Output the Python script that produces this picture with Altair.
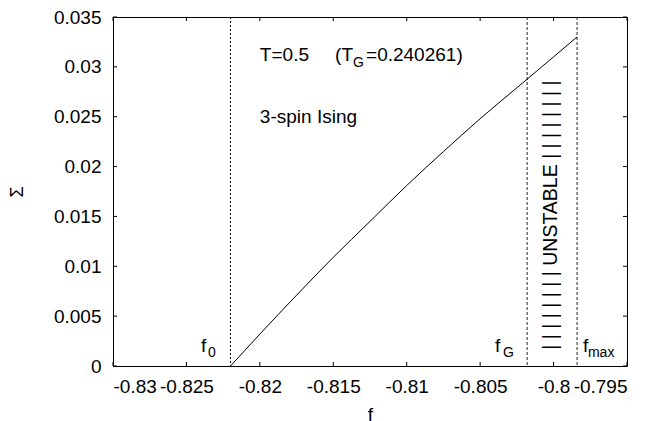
import altair as alt
import pandas as pd

# Curve Sigma(f)
f_vals = [-0.8220, -0.8200, -0.8175, -0.8150, -0.8125, -0.8100, -0.8075, -0.8050, -0.8025, -0.8000, -0.7984]
sigma_vals = [0.0, 0.0032, 0.0071, 0.0109, 0.0145, 0.0181, 0.0215, 0.0248, 0.0279, 0.0310, 0.0330]

# Special free energies (vertical dashed lines)
f0 = -0.8220
fG = -0.8018
fmax = -0.7984

x_ticks = [-0.83, -0.825, -0.82, -0.815, -0.81, -0.805, -0.8, -0.795]
y_ticks = [0, 0.005, 0.01, 0.015, 0.02, 0.025, 0.03, 0.035]

W, H = 514, 349
FONT = "Liberation Sans"

xs = alt.Scale(domain=[-0.83, -0.795], nice=False, zero=False)
ys = alt.Scale(domain=[0, 0.035], nice=False, zero=False)

x_axis = alt.Axis(values=x_ticks, labelExpr="'' + datum.value", ticks=False, domain=False,
                  grid=False, labelFontSize=19, labelPadding=11, titleFontSize=19,
                  titleFontWeight="normal", titlePadding=9, labelColor="black",
                  titleColor="black", labelFont=FONT, titleFont=FONT, title="f")
y_axis = alt.Axis(values=y_ticks, labelExpr="'' + datum.value", ticks=False, domain=False,
                  grid=False, labelFontSize=19, labelPadding=12, titleFontSize=18,
                  titleFontWeight="normal", titlePadding=27, labelColor="black",
                  titleColor="black", labelFont=FONT, titleFont=FONT, title="Σ")


def X():
    return alt.X("f:Q", scale=xs, axis=x_axis, title="f")


def Y():
    return alt.Y("S:Q", scale=ys, axis=y_axis, title="Σ")


curve_df = pd.DataFrame({"f": f_vals, "S": sigma_vals})

curve = alt.Chart(curve_df).mark_line(color="black", strokeWidth=1, interpolate="monotone").encode(x=X(), y=Y())

vl_f0 = alt.Chart(pd.DataFrame({"f": [f0]})).mark_rule(color="black", strokeWidth=1, strokeDash=[2, 2]).encode(
    x=X(), y=alt.value(0), y2=alt.value(H))
vl_fg = alt.Chart(pd.DataFrame({"f": [fG, fmax]})).mark_rule(color="#222", strokeWidth=1, strokeDash=[3, 2]).encode(
    x=X(), y=alt.value(0), y2=alt.value(H))

xt = pd.DataFrame({"f": x_ticks})
yt = pd.DataFrame({"S": y_ticks})
tick_b = alt.Chart(xt).mark_rule(color="black").encode(x=X(), y=alt.value(H), y2=alt.value(H - 4))
tick_t = alt.Chart(xt).mark_rule(color="black").encode(x=X(), y=alt.value(0), y2=alt.value(4))
tick_l = alt.Chart(yt).mark_rule(color="black").encode(y=Y(), x=alt.value(0), x2=alt.value(4))
tick_r = alt.Chart(yt).mark_rule(color="black").encode(y=Y(), x=alt.value(W), x2=alt.value(W - 4))

# Annotations (anchored in data coordinates)
main_text = pd.DataFrame({
    "f": [-0.8200, -0.81488, -0.81277, -0.8200, -0.82401, -0.80399, -0.79800],
    "S": [0.0306, 0.0306, 0.0306, 0.02437, 0.0014, 0.0014, 0.0014],
    "t": ["T=0.5", "(T", "=0.240261)", "3-spin Ising", "f", "f", "f"],
})
sub_text = pd.DataFrame({
    "f": [-0.81366, -0.82353, -0.80344, -0.79766],
    "S": [0.0300, 0.0009, 0.0009, 0.0009],
    "t": ["G", "0", "G", "max"],
})
unstable = pd.DataFrame({
    "f": [-0.80018], "S": [0.01514],
    "t": ["| | | | | | | |  UNSTABLE  | | | | | | | |"],
})

txt_main = alt.Chart(main_text).mark_text(align="left", baseline="alphabetic", fontSize=19,
                                           font=FONT, color="black").encode(x=X(), y=Y(), text="t:N")
txt_sub = alt.Chart(sub_text).mark_text(align="left", baseline="alphabetic", fontSize=14,
                                         font=FONT, color="black").encode(x=X(), y=Y(), text="t:N")
txt_unst = alt.Chart(unstable).mark_text(align="center", baseline="middle", fontSize=19.5, angle=270,
                                          font=FONT, color="black").encode(x=X(), y=Y(), text="t:N")

chart = alt.layer(
    vl_f0, vl_fg, curve, tick_b, tick_t, tick_l, tick_r, txt_main, txt_sub, txt_unst
).properties(
    width=W, height=H,
    autosize=alt.AutoSizeParams(type="none"),
    padding={"left": 105, "top": 9, "right": 30, "bottom": 56},
    background="white",
).configure(font=FONT).configure_view(stroke="black", strokeWidth=1)

chart.save("out.html", embed_options={"renderer": "svg", "actions": False})
